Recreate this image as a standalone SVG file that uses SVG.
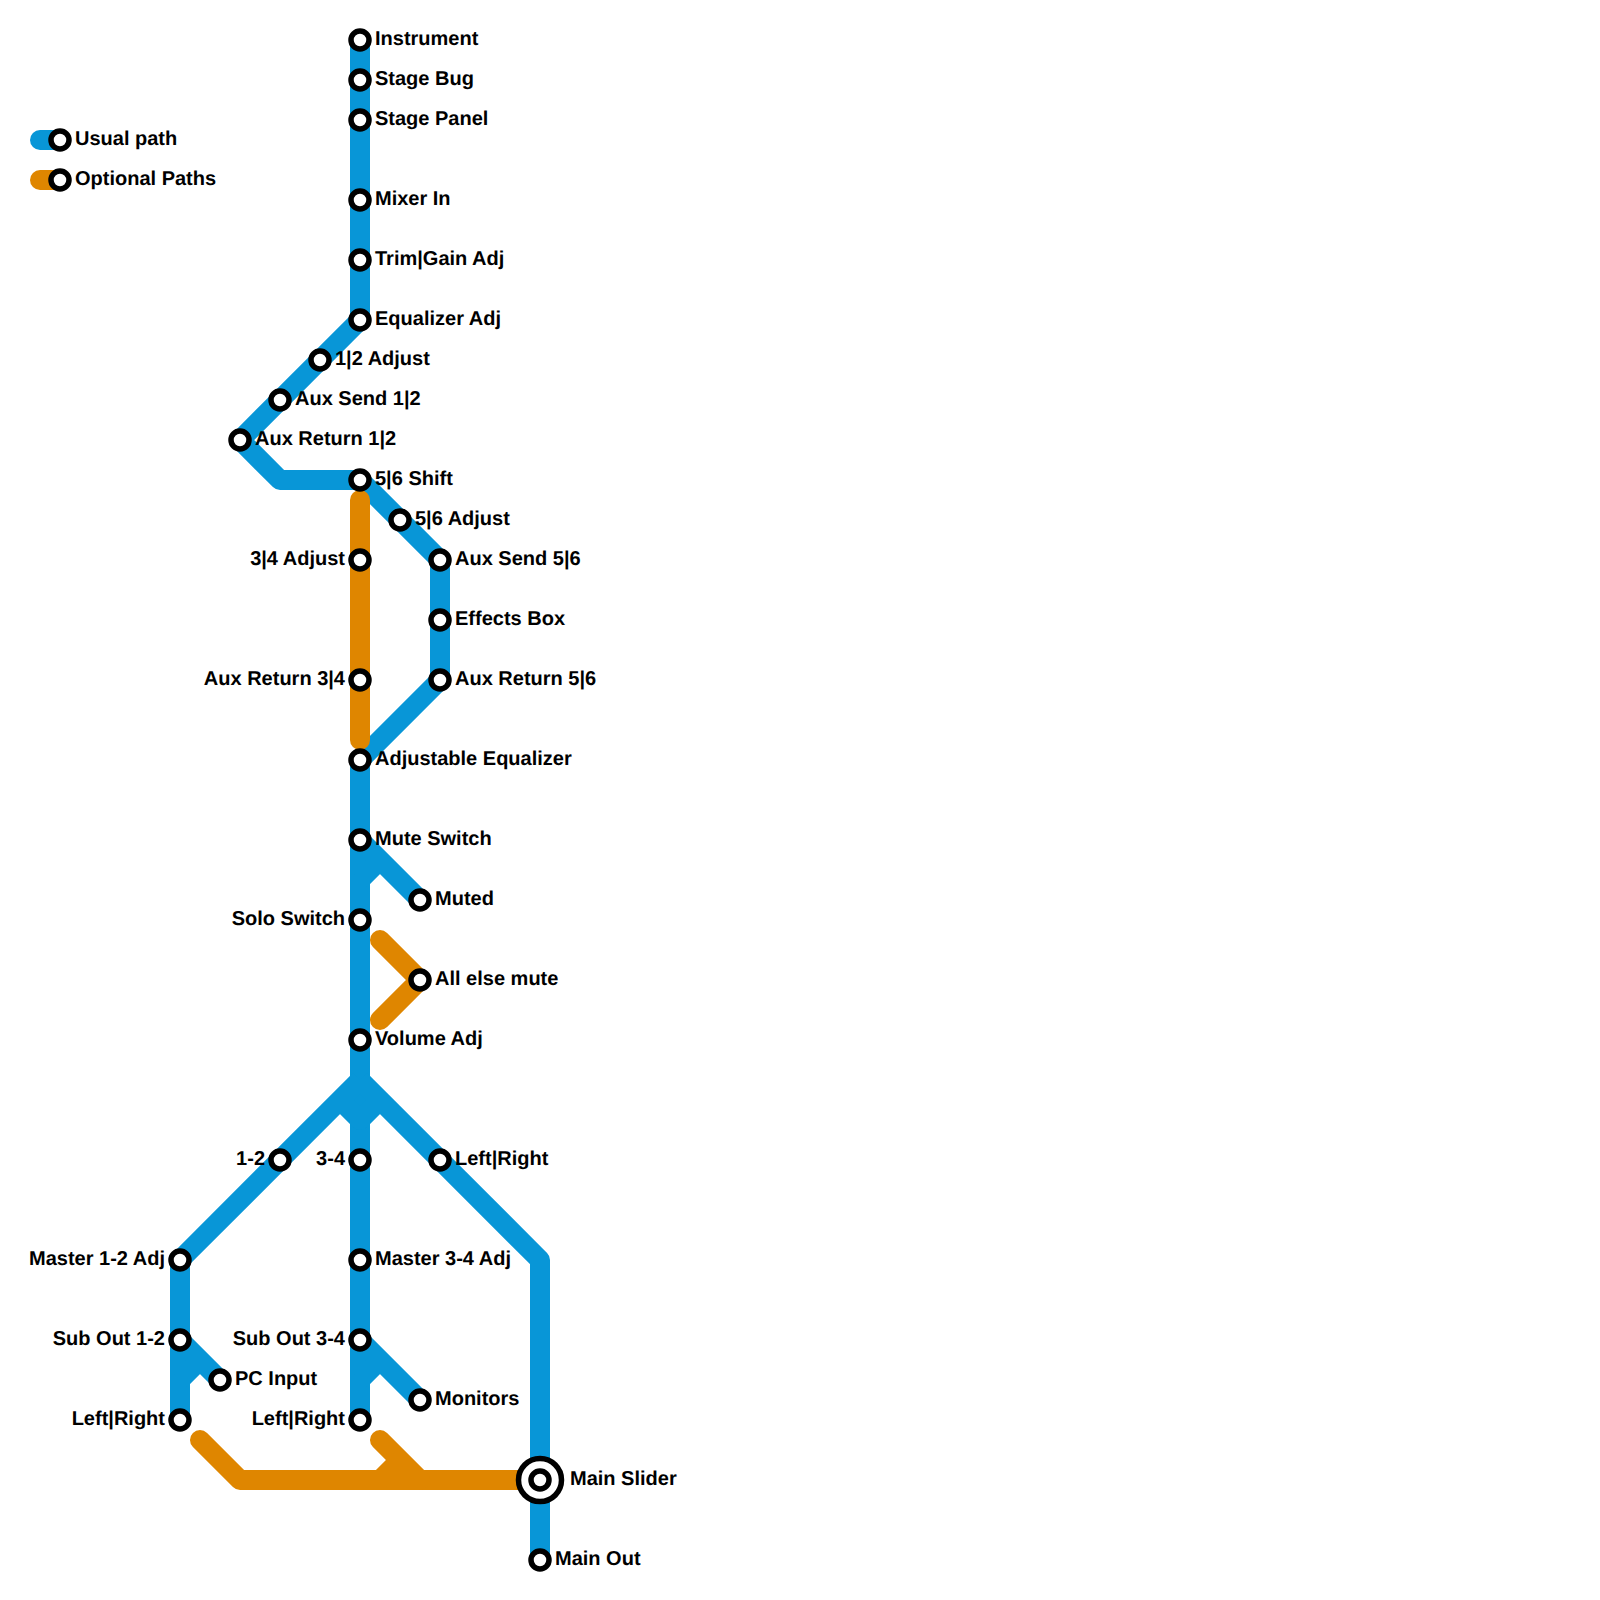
<svg xmlns="http://www.w3.org/2000/svg" width="1600" height="1600" viewBox="0 0 1600 1600">
<style>
.l{fill:none;stroke-width:20;stroke-linejoin:round;stroke-linecap:butt}
.b{stroke:#0896d7}
.o{stroke:#df8600}
.r{stroke-linecap:round}
.s{fill:#fff;stroke:#000;stroke-width:5.5}
.t{font-family:"Liberation Sans",Arial,sans-serif;font-weight:700;font-size:20px;fill:#000;text-rendering:geometricPrecision}
.e{text-anchor:end}
</style>
<rect width="1600" height="1600" fill="#fff"/>
<g id="connectors">
<path class="l b r" d="M40 140H60"/>
<path class="l o r" d="M40 180H60"/>
<path class="l b" d="M360 40V320L240 440L280 480H360L440 560V680L360 760V1420"/>
<path class="l b" d="M360 840L420 900M360 880L380 860"/>
<path class="l b" d="M360 1080L180 1260V1420M360 1080L540 1260V1560M340 1100L360 1120L380 1100"/>
<path class="l b" d="M180 1340L220 1380M180 1380L200 1360"/>
<path class="l b" d="M360 1340L420 1400M360 1380L380 1360"/>
<path class="l o r" d="M360 500V740"/>
<path class="l o r" d="M380 940L420 980L380 1020"/>
<path class="l o r" d="M200 1440L240 1480H540"/>
<path class="l o r" d="M380 1440L420 1480"/>
<path class="l o" d="M380 1480L400 1460"/>
</g>
<g id="legend-usual"><circle class="s" cx="60" cy="140" r="9"/><text class="t" x="75" y="145">Usual path</text></g>
<g id="legend-optional"><circle class="s" cx="60" cy="180" r="9"/><text class="t" x="75" y="185">Optional Paths</text></g>
<g id="n-instrument"><circle class="s" cx="360" cy="40" r="9"/><text class="t" x="375" y="45">Instrument</text></g>
<g id="n-stagebug"><circle class="s" cx="360" cy="80" r="9"/><text class="t" x="375" y="85">Stage Bug</text></g>
<g id="n-stagepanel"><circle class="s" cx="360" cy="120" r="9"/><text class="t" x="375" y="125">Stage Panel</text></g>
<g id="n-mixerin"><circle class="s" cx="360" cy="200" r="9"/><text class="t" x="375" y="205">Mixer In</text></g>
<g id="n-trim"><circle class="s" cx="360" cy="260" r="9"/><text class="t" x="375" y="265">Trim|Gain Adj</text></g>
<g id="n-eq"><circle class="s" cx="360" cy="320" r="9"/><text class="t" x="375" y="325">Equalizer Adj</text></g>
<g id="n-12adj"><circle class="s" cx="320" cy="360" r="9"/><text class="t" x="335" y="365">1|2 Adjust</text></g>
<g id="n-auxsend12"><circle class="s" cx="280" cy="400" r="9"/><text class="t" x="295" y="405">Aux Send 1|2</text></g>
<g id="n-auxret12"><circle class="s" cx="240" cy="440" r="9"/><text class="t" x="255" y="445">Aux Return 1|2</text></g>
<g id="n-56shift"><circle class="s" cx="360" cy="480" r="9"/><text class="t" x="375" y="485">5|6 Shift</text></g>
<g id="n-56adj"><circle class="s" cx="400" cy="520" r="9"/><text class="t" x="415" y="525">5|6 Adjust</text></g>
<g id="n-auxsend56"><circle class="s" cx="440" cy="560" r="9"/><text class="t" x="455" y="565">Aux Send 5|6</text></g>
<g id="n-fx"><circle class="s" cx="440" cy="620" r="9"/><text class="t" x="455" y="625">Effects Box</text></g>
<g id="n-auxret56"><circle class="s" cx="440" cy="680" r="9"/><text class="t" x="455" y="685">Aux Return 5|6</text></g>
<g id="n-34adj"><circle class="s" cx="360" cy="560" r="9"/><text class="t e" x="345" y="565">3|4 Adjust</text></g>
<g id="n-auxret34"><circle class="s" cx="360" cy="680" r="9"/><text class="t e" x="345" y="685">Aux Return 3|4</text></g>
<g id="n-adjeq"><circle class="s" cx="360" cy="760" r="9"/><text class="t" x="375" y="765">Adjustable Equalizer</text></g>
<g id="n-mute"><circle class="s" cx="360" cy="840" r="9"/><text class="t" x="375" y="845">Mute Switch</text></g>
<g id="n-muted"><circle class="s" cx="420" cy="900" r="9"/><text class="t" x="435" y="905">Muted</text></g>
<g id="n-solo"><circle class="s" cx="360" cy="920" r="9"/><text class="t e" x="345" y="925">Solo Switch</text></g>
<g id="n-allelse"><circle class="s" cx="420" cy="980" r="9"/><text class="t" x="435" y="985">All else mute</text></g>
<g id="n-vol"><circle class="s" cx="360" cy="1040" r="9"/><text class="t" x="375" y="1045">Volume Adj</text></g>
<g id="n-12"><circle class="s" cx="280" cy="1160" r="9"/><text class="t e" x="265" y="1165">1-2</text></g>
<g id="n-34"><circle class="s" cx="360" cy="1160" r="9"/><text class="t e" x="345" y="1165">3-4</text></g>
<g id="n-lr"><circle class="s" cx="440" cy="1160" r="9"/><text class="t" x="455" y="1165">Left|Right</text></g>
<g id="n-m12"><circle class="s" cx="180" cy="1260" r="9"/><text class="t e" x="165" y="1265">Master 1-2 Adj</text></g>
<g id="n-m34"><circle class="s" cx="360" cy="1260" r="9"/><text class="t" x="375" y="1265">Master 3-4 Adj</text></g>
<g id="n-sub12"><circle class="s" cx="180" cy="1340" r="9"/><text class="t e" x="165" y="1345">Sub Out 1-2</text></g>
<g id="n-sub34"><circle class="s" cx="360" cy="1340" r="9"/><text class="t e" x="345" y="1345">Sub Out 3-4</text></g>
<g id="n-pc"><circle class="s" cx="220" cy="1380" r="9"/><text class="t" x="235" y="1385">PC Input</text></g>
<g id="n-mon"><circle class="s" cx="420" cy="1400" r="9"/><text class="t" x="435" y="1405">Monitors</text></g>
<g id="n-lr1"><circle class="s" cx="180" cy="1420" r="9"/><text class="t e" x="165" y="1425">Left|Right</text></g>
<g id="n-lr2"><circle class="s" cx="360" cy="1420" r="9"/><text class="t e" x="345" y="1425">Left|Right</text></g>
<g id="n-mainslider"><circle class="s" cx="540" cy="1480" r="21.5"/><circle class="s" cx="540" cy="1480" r="9"/><text class="t" x="570" y="1485">Main Slider</text></g>
<g id="n-mainout"><circle class="s" cx="540" cy="1560" r="9"/><text class="t" x="555" y="1565">Main Out</text></g>
</svg>
